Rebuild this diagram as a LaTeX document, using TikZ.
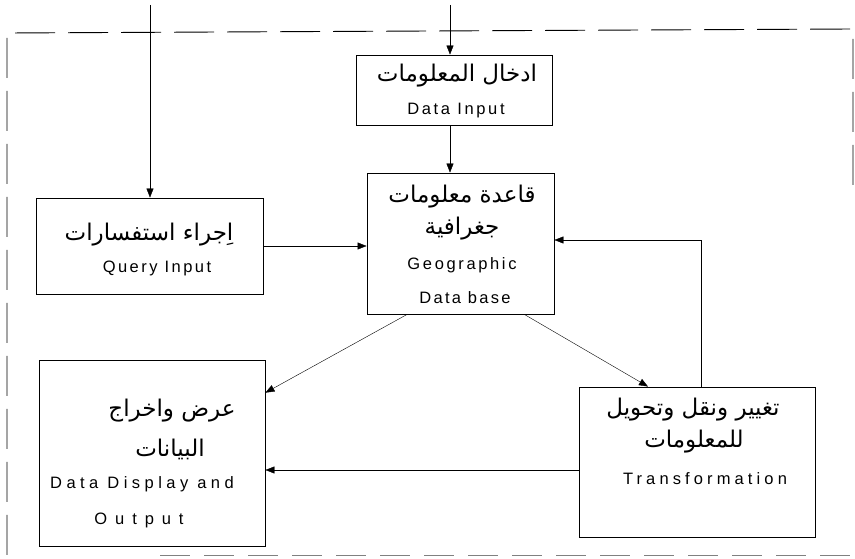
\documentclass[tikz,border=0pt]{standalone}
\usepackage{fontspec}
\setmainfont{Liberation Sans}
\newfontfamily\arabicfont[Script=Arabic]{DejaVu Sans}
\TeXXeTstate=1
\usetikzlibrary{arrows.meta}

\newcommand{\artext}[1]{{\arabicfont\fontsize{23}{26}\selectfont\beginR #1\endR}}
\newcommand{\entext}[2]{{\fontsize{16.5}{19}\selectfont\addfontfeature{LetterSpace=#1}#2}}

\begin{document}
\begin{tikzpicture}[x=1pt, y=-1pt,
    block/.style={draw, line width=0.9pt, inner sep=0pt},
    lbl/.style={inner sep=0pt}]
    \tikzset{>={Triangle[length=9pt,width=7pt]}}
    \useasboundingbox (0,0) rectangle (855,559);

    % The dashed frame (partly lost at right and bottom)
    \draw[dashed, dash pattern=on 40pt off 13pt, line width=0.9pt]
        (853,185) -- (853,29) -- (7,33) -- (7,559);
    \draw[dashed, dash pattern=on 30pt off 14pt, line width=0.6pt, gray]
        (160,555) -- (855,555);

    % The boxes
    \node[block, minimum width=196pt, minimum height=70pt] (datain) at (454,90) {};
    \node[block, minimum width=227pt, minimum height=96pt] (query) at (149.5,246) {};
    \node[block, minimum width=187pt, minimum height=141pt] (geo) at (460.5,243.5) {};
    \node[block, minimum width=226pt, minimum height=186pt] (display) at (152,453) {};
    \node[block, minimum width=236pt, minimum height=150pt] (trans) at (697,462) {};

    % Texts in the boxes
    \node[lbl] (datainar) at (457,76) {\artext{ادخال المعلومات}};
    \node[lbl] (datainen) at (456,111) {\entext{16}{Data Input}};

    \node[lbl] (queryar) at (149,235) {\artext{اِجراء استفسارات}};
    \node[lbl] (queryen) at (157,268) {\entext{15}{Query Input}};

    \node[lbl] (geoar) at (462,197) {\artext{قاعدة معلومات}};
    \node[lbl] (geoarb) at (462,229) {\artext{جغرافية}};
    \node[lbl] (geoen) at (462,265) {\entext{16}{Geographic}};
    \node[lbl] (geoenb) at (465,298) {\entext{14}{Data base}};

    \node[lbl] (dispar) at (172,411) {\artext{عرض واخراج}};
    \node[lbl] (disparb) at (170,449) {\artext{البيانات}};
    \node[lbl] (dispen) at (142,484) {\entext{27}{Data Display and}};
    \node[lbl] (dispenb) at (139,520) {\entext{48}{Output}};

    \node[lbl] (transar) at (693,410) {\artext{تغيير ونقل وتحويل}};
    \node[lbl] (transarb) at (694,442) {\artext{للمعلومات}};
    \node[lbl] (transen) at (705,479) {\entext{25}{Transformation}};

    % Inputs from outside
    \coordinate (inA) at (150,5);
    \coordinate (inB) at (450,5);
    \draw[->] (inA) -- (inA |- query.north);
    \draw[->] (inB) -- (inB |- datain.north);

    % Flow between the boxes
    \draw[->] (datain.south -| inB) -- (geo.north -| inB);
    \draw[->] (query.east) -- (query.east -| geo.west);
    \coordinate (back) at (701,240);
    \draw[->] (trans.north -| back) -- (back) -- (back -| geo.east);
    \draw[->] (geo.233) -- (display.28);
    \draw[->] (geo.312) -- (trans.123);
    \draw[->] ([yshift=-8pt]trans.west) -- ([yshift=-8pt]trans.west -| display.east);
\end{tikzpicture}
\end{document}
